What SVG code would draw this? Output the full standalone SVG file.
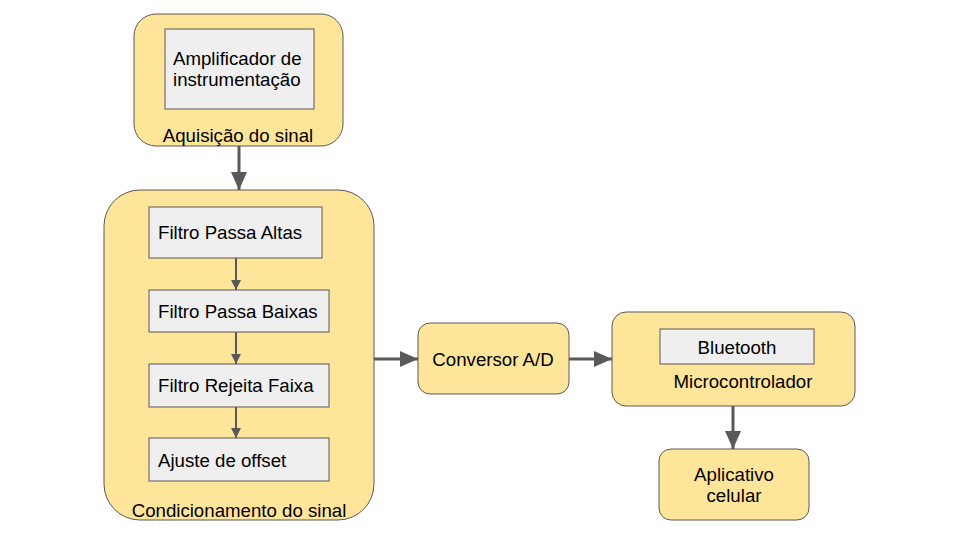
<svg xmlns="http://www.w3.org/2000/svg" width="960" height="540" viewBox="0 0 960 540">
<style>
.grp{fill:#FFE599;stroke:#595959;stroke-width:1}
.inner{fill:#EFEFEF;stroke:#595959;stroke-width:1}
text{font-family:"Liberation Sans",Arial,sans-serif;font-size:18.67px;fill:#000}
.c{text-anchor:middle}
.big{stroke:#595959;stroke-width:3;fill:none}
.small{stroke:#595959;stroke-width:2;fill:none}
</style>
<defs>
<marker id="ab" markerUnits="userSpaceOnUse" markerWidth="20" markerHeight="16" refX="18" refY="8" orient="auto">
<path d="M0,0 L18,8 L0,16 Z" fill="#595959"/>
</marker>
<marker id="as" markerUnits="userSpaceOnUse" markerWidth="12" markerHeight="10" refX="10" refY="5" orient="auto">
<path d="M0,0 L10,5 L0,10 Z" fill="#595959"/>
</marker>
</defs>
<rect width="960" height="540" fill="#FFFFFF"/>
<g id="aquisicao">
<rect class="grp" x="134" y="14" width="209" height="132" rx="22"/>
<text class="c" x="238" y="142">Aquisição do sinal</text>
</g>
<g id="amplificador">
<rect class="inner" x="165" y="29" width="149" height="80"/>
<text x="173" y="65">Amplificador de</text>
<text x="173" y="86">instrumentação</text>
</g>
<g id="condicionamento">
<rect class="grp" x="104" y="190" width="270" height="330" rx="36"/>
<text class="c" x="239" y="517">Condicionamento do sinal</text>
</g>
<g id="passa-altas">
<rect class="inner" x="149" y="207" width="173" height="51"/>
<text x="158" y="239">Filtro Passa Altas</text>
</g>
<g id="passa-baixas">
<rect class="inner" x="149" y="290" width="180" height="42"/>
<text x="158" y="318">Filtro Passa Baixas</text>
</g>
<g id="rejeita-faixa">
<rect class="inner" x="149" y="364" width="180" height="43"/>
<text x="158" y="392">Filtro Rejeita Faixa</text>
</g>
<g id="offset">
<rect class="inner" x="149" y="438" width="180" height="43"/>
<text x="158" y="467">Ajuste de offset</text>
</g>
<g id="conversor">
<rect class="grp" x="418" y="323" width="151" height="71" rx="12"/>
<text class="c" x="493" y="366">Conversor A/D</text>
</g>
<g id="microcontrolador">
<rect class="grp" x="612" y="312" width="243" height="94" rx="14"/>
<text class="c" x="743" y="388">Microcontrolador</text>
</g>
<g id="bluetooth">
<rect class="inner" x="660" y="329" width="154" height="35"/>
<text class="c" x="737" y="354">Bluetooth</text>
</g>
<g id="aplicativo">
<rect class="grp" x="659" y="449" width="150" height="71" rx="12"/>
<text class="c" x="734" y="481">Aplicativo</text>
<text class="c" x="734" y="502">celular</text>
</g>
<g id="connectors">
<line class="big" x1="239" y1="146" x2="239" y2="190" marker-end="url(#ab)"/>
<line class="small" x1="236" y1="258" x2="236" y2="290" marker-end="url(#as)"/>
<line class="small" x1="236" y1="332" x2="236" y2="364" marker-end="url(#as)"/>
<line class="small" x1="236" y1="407" x2="236" y2="438" marker-end="url(#as)"/>
<line class="big" x1="374" y1="359" x2="418" y2="359" marker-end="url(#ab)"/>
<line class="big" x1="569" y1="359" x2="612" y2="359" marker-end="url(#ab)"/>
<line class="big" x1="733" y1="406" x2="733" y2="449" marker-end="url(#ab)"/>
</g>
</svg>
